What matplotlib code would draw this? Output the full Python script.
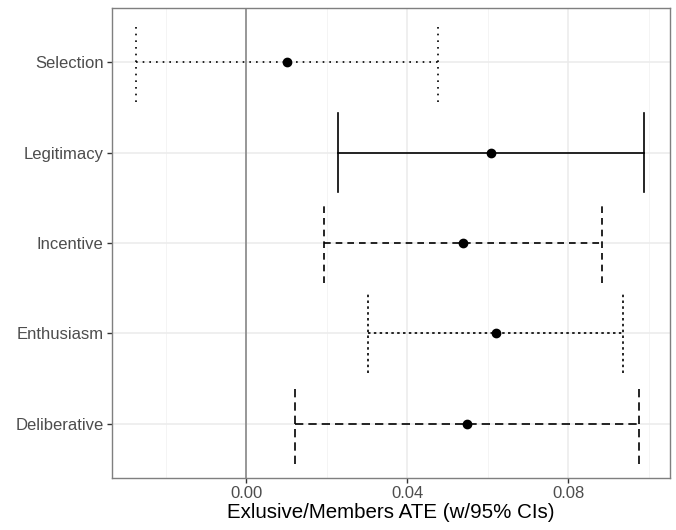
import matplotlib
matplotlib.use("Agg")
import matplotlib.pyplot as plt

plt.rcParams["font.family"] = ["Liberation Sans", "DejaVu Sans"]

categories = ["Selection", "Legitimacy", "Incentive", "Enthusiasm", "Deliberative"]
estimates = [0.0102, 0.0609, 0.0539, 0.0621, 0.0549]
lower = [-0.0273, 0.0229, 0.0194, 0.0303, 0.0122]
upper = [0.0477, 0.0989, 0.0884, 0.0937, 0.0976]
linestyles = [(0, (1, 3)), "-", (0, (4, 3)), (0, (1.5, 2)), (0, (5, 3))]
xticks = [0.00, 0.04, 0.08]
xticklabels = ["0.00", "0.04", "0.08"]

fig = plt.figure(figsize=(6.76, 5.30), dpi=100)
ax = fig.add_axes([112/676, 52/530, 558/676, 470/530])

n = len(categories)
ypos = [n - i for i in range(n)]

# grid
for x in [-0.02, 0.02, 0.06, 0.10]:
    ax.axvline(x, color="#F2F2F2", lw=0.6, zorder=0)
for x in xticks:
    ax.axvline(x, color="#EBEBEB", lw=1.1, zorder=0)
for y in ypos:
    ax.axhline(y, color="#EBEBEB", lw=1.1, zorder=0)

ax.axvline(0, color="#7F7F7F", lw=1.1, zorder=1)

cap = 0.44
for y, e, lo, hi, ls in zip(ypos, estimates, lower, upper, linestyles):
    ax.plot([lo, hi], [y, y], color="black", lw=1.2, linestyle=ls, zorder=2)
    ax.plot([lo, lo], [y - cap, y + cap], color="black", lw=1.2, linestyle=ls, zorder=2)
    ax.plot([hi, hi], [y - cap, y + cap], color="black", lw=1.2, linestyle=ls, zorder=2)
    ax.plot([e], [y], "o", color="black", ms=6, zorder=3)

ax.set_xlim(-0.0333, 0.1053)
ax.set_ylim(0.4, 5.6)
ax.set_yticks(ypos)
ax.set_yticklabels(categories)
ax.set_xticks(xticks)
ax.set_xticklabels(xticklabels)
ax.tick_params(axis="both", colors="#333333", labelcolor="#4D4D4D", labelsize=12, length=3.5, width=1, pad=2.5)
for s in ax.spines.values():
    s.set_color("#7F7F7F")
    s.set_linewidth(1.0)
ax.set_xlabel("Exlusive/Members ATE (w/95% CIs)", fontsize=14.8, color="black", labelpad=1)

fig.savefig("out.png", dpi=100)
